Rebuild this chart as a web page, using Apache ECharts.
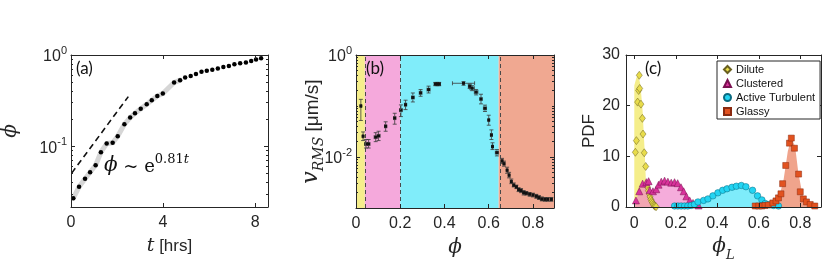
<!DOCTYPE html>
<html><head><meta charset="utf-8">
<script src="https://cdn.jsdelivr.net/npm/echarts@6/dist/echarts.min.js"></script>
<style>html,body{margin:0;padding:0;background:#fff}#c{width:830px;height:277px}</style>
</head><body><div id="c"></div>
<script>
// ---------- Panel (a): phi vs t ----------
const tA   = [0.1,0.35,0.61,0.83,1.07,1.3,1.55,1.81,2.03,2.32,2.57,2.78,3.03,3.29,3.51,3.75,3.99,4.48,4.74,4.96,5.2,5.43,5.67,5.9,6.14,6.38,6.62,6.86,7.1,7.35,7.6,7.83,8.04,8.26];
const phiA = [0.027,0.036,0.044,0.052,0.062,0.086,0.107,0.109,0.129,0.174,0.206,0.23,0.258,0.288,0.32,0.356,0.378,0.50,0.53,0.567,0.59,0.62,0.655,0.67,0.69,0.71,0.74,0.76,0.79,0.81,0.83,0.86,0.89,0.92];
const bandCountA = 19;
const fitT   = [0.03, 2.49];
const fitPhi = [0.0508, 0.35];
const xTicksA = [0, 4, 8];
const yTicksA = [0.1, 1];

// ---------- Panel (b): v_RMS vs phi ----------
const phiB  = [0.022,0.032,0.045,0.057,0.089,0.102,0.134,0.175,0.203,0.224,0.257,0.292,0.328,0.359,0.368,0.376,0.486,0.514,0.525,0.543,0.565,0.583,0.600,0.612,0.617,0.637,0.660,0.669,0.683,0.692,0.702,0.713,0.725,0.735,0.746,0.758,0.770,0.785,0.800,0.815,0.827,0.840,0.854,0.867,0.883];
const vB    = [0.10,0.0255,0.018,0.018,0.0245,0.026,0.040,0.058,0.083,0.106,0.147,0.181,0.21,0.27,0.27,0.27,0.279,0.244,0.223,0.187,0.137,0.090,0.053,0.027,0.016,0.0122,0.0084,0.0074,0.0055,0.0044,0.0033,0.0028,0.0026,0.0023,0.0022,0.0020,0.00195,0.00187,0.0018,0.0017,0.0016,0.0015,0.00148,0.00148,0.00148];
const dphiB = [0.003,0.003,0.006,0.006,0.007,0.007,0.005,0.005,0.006,0.005,0.006,0.006,0.007,0.006,0.006,0.006,0.05,0.006,0.01,0.008,0.005,0.007,0.003,0.004,0.003,0.007,0.004,0.004,0.003,0.003,0.003,0.004,0.004,0.004,0.004,0.004,0.004,0.004,0.004,0.004,0.004,0.004,0.004,0.004,0.004];
const vLoB  = [0.052,0.021,0.015,0.015,0.020,0.021,0.032,0.044,0.062,0.085,0.12,0.155,0.18,0.25,0.25,0.25,0.255,0.22,0.20,0.165,0.11,0.078,0.042,0.022,0.014,0.0105,0.0075,0.0066,0.0048,0.0039,0.0030,0.0026,0.0024,0.0021,0.0020,0.0018,0.0018,0.0017,0.00165,0.00155,0.00147,0.00138,0.00136,0.00136,0.00136];
const vHiB  = [0.135,0.031,0.022,0.022,0.030,0.032,0.049,0.072,0.105,0.13,0.18,0.21,0.245,0.29,0.29,0.29,0.30,0.27,0.25,0.21,0.17,0.104,0.066,0.034,0.019,0.014,0.0094,0.0083,0.0063,0.005,0.0037,0.0031,0.0028,0.0025,0.0024,0.0022,0.0021,0.0020,0.00195,0.00185,0.00175,0.00165,0.0016,0.0016,0.0016];
const regionEdgesB  = [0, 0.04, 0.2, 0.645, 0.895];
const regionColorsB = ['#f6ee8c','#f5a9dc','#80edfa','#f0a891'];
const xTicksB = [0, 0.2, 0.4, 0.6, 0.8];
const yTicksB = [0.01, 1];

// ---------- Panel (c): PDF vs phi_L ----------
const dilX = [0.005,0.01,0.016,0.021,0.024,0.026,0.032,0.039,0.042,0.048,0.055,0.064,0.068,0.072,0.076,0.08,0.084,0.088,0.092,0.096,0.1,0.105];
const dilY = [10.8,13.1,20.7,23,26,23.4,20.3,17.5,14.4,10.7,8.0,3.9,3.2,2.6,2.0,1.5,1.1,0.8,0.5,0.3,0.15,0.05];
const cluX = [0.008,0.024,0.04,0.058,0.069,0.074,0.09,0.106,0.117,0.13,0.146,0.162,0.178,0.194,0.209,0.225,0.238,0.251,0.267,0.283,0.299,0.31];
const cluY = [1.3,3.1,4.6,4.9,5.1,3.3,3.1,3.5,4.4,5.0,5.2,5.0,4.8,4.9,4.7,3.9,3.1,2.1,1.3,0.8,0.5,0.3];
const actX = [0.194,0.21,0.226,0.242,0.258,0.274,0.29,0.307,0.334,0.355,0.379,0.403,0.426,0.447,0.471,0.492,0.516,0.538,0.57,0.594,0.615,0.631,0.652,0.671,0.695];
const actY = [0.2,0.2,0.2,0.2,0.2,0.3,0.5,1.0,1.3,1.6,2.2,2.8,3.3,3.6,3.9,4.1,4.25,4.0,3.3,2.2,1.4,0.7,0.5,0.3,0.2];
const glaX = [0.583,0.6,0.615,0.63,0.646,0.668,0.683,0.695,0.707,0.715,0.73,0.748,0.757,0.772,0.792,0.8,0.815,0.83,0.848,0.87];
const glaY = [0.2,0.2,0.2,0.3,0.4,0.8,1.2,1.8,2.6,4.6,8.2,12.6,13.6,11.6,6.5,3.0,1.6,1.0,0.5,0.2];
// shaded envelopes
const dilFillX = [0,0,0.01,0.02,0.03,0.04,0.045,0.05,0.055,0.06,0.08,0.1];
const dilFillY = [0,24,25.5,26,24,19,15,11,6,3,1,0];
const cluFillX = [0,0.01,0.025,0.04,0.055,0.07,0.09,0.11,0.13,0.15,0.18,0.21,0.23,0.25,0.27,0.29,0.31,0.32];
const cluFillY = [0,1.5,3.5,4.8,5,3.6,3.2,3.8,4.9,5.1,4.9,4.6,3.8,2.3,1.2,0.6,0.2,0];
const actFillX = [0.28,0.3,0.33,0.36,0.4,0.44,0.48,0.52,0.55,0.58,0.61,0.64,0.67,0.7,0.72];
const actFillY = [0,0.6,1.2,1.8,2.8,3.6,4.1,4.3,3.9,2.9,1.7,0.8,0.4,0.15,0];
const glaFillX = [0.6,0.65,0.68,0.7,0.72,0.74,0.757,0.775,0.79,0.81,0.83,0.85,0.87];
const glaFillY = [0,0.3,0.9,2.2,5.5,11,13.6,12,7,2.5,1,0.3,0];
const xTicksC = [0, 0.2, 0.4, 0.6, 0.8];
const yTicksC = [0, 10, 20, 30];
const legendNames = ['Dilute','Clustered','Active Turbulent','Glassy'];

// ---------- helpers ----------
const zip = (a, b) => a.map((v, i) => [v, b[i]]);
const FONT = 'Liberation Sans, Arial, sans-serif';
const SERIF = 'DejaVu Serif, Liberation Serif, serif';
const AX = '#262626';
const minorVals = [];
for (let e = -3; e <= 0; e++) for (let m = 1; m <= 9; m++) minorVals.push(+(m * Math.pow(10, e)).toPrecision(3));
const supRich = {
  b: {fontSize: 16, fontFamily: FONT, color: AX, verticalAlign: 'bottom'},
  s: {fontSize: 11, fontFamily: FONT, color: AX, verticalAlign: 'bottom', padding: [0, 0, 9, 0]}
};
const logFmt = v => '{b|10}{s|' + Math.round(Math.log10(v)) + '}';

function xAx(grid, min, max, ticks, pos, name, nameGap, nameRich, margin) {
  const main = pos === 'bottom';
  return {
    type: 'value', gridIndex: grid, position: pos, min, max, z: 10,
    axisLine: {show: true, onZero: false, lineStyle: {color: AX, width: 1}},
    axisTick: {show: true, inside: true, length: 4, customValues: ticks, lineStyle: {color: AX}},
    axisLabel: {show: main, customValues: ticks, margin: margin || 8, fontSize: 16, fontFamily: FONT, color: AX},
    splitLine: {show: false},
    name: main ? name : '', nameLocation: 'middle', nameGap: nameGap, nameMoveOverlap: false,
    nameTextStyle: {rich: nameRich}
  };
}
function yAx(grid, type, min, max, ticks, pos, opts) {
  opts = opts || {};
  const main = pos === 'left' && !opts.minor;
  const ax = {
    type, gridIndex: grid, position: pos, min, max, z: 10,
    axisLine: {show: !opts.minor, onZero: false, lineStyle: {color: AX, width: 1}},
    axisTick: {show: true, inside: true, length: opts.minor ? 2 : 4, customValues: ticks, lineStyle: {color: AX}},
    axisLabel: {show: main, customValues: opts.labels || ticks, margin: opts.margin || 5, fontSize: 16, fontFamily: FONT, color: AX},
    splitLine: {show: false},
    nameMoveOverlap: false
  };
  if (main && opts.fmt) { ax.axisLabel.formatter = opts.fmt; ax.axisLabel.rich = supRich; }
  if (main && opts.name) {
    ax.name = opts.name; ax.nameLocation = 'middle'; ax.nameGap = opts.nameGap; ax.nameRotate = 90;
    ax.nameTextStyle = {rich: opts.rich, fontSize: 17, fontFamily: FONT, color: AX};
  }
  return ax;
}

const phiRich = {p: {fontFamily: SERIF, fontStyle: 'italic', fontSize: 20, color: AX}};

const bandsB = [];
for (let i = 0; i < regionColorsB.length; i++) {
  bandsB.push([{xAxis: regionEdgesB[i], itemStyle: {color: regionColorsB[i], opacity: 1}}, {xAxis: regionEdgesB[i + 1]}]);
}
const dashB = regionEdgesB.slice(1, 4).map(v => ({xAxis: v}));
const errRows = phiB.map((p, i) => [p, vB[i], dphiB[i], vLoB[i], vHiB[i]]);

function errItem(params, api) {
  const x = api.value(0), y = api.value(1), dx = api.value(2), lo = api.value(3), hi = api.value(4);
  const a = api.coord([x, lo]), b = api.coord([x, hi]);
  const l = api.coord([x - dx, y]), r = api.coord([x + dx, y]);
  const cap = 2, st = {stroke: '#3a3a3a', lineWidth: 0.8};
  const ln = (x1, y1, x2, y2) => ({type: 'line', shape: {x1, y1, x2, y2}, style: st});
  return {type: 'group', children: [
    ln(a[0], a[1], b[0], b[1]), ln(a[0] - cap, a[1], a[0] + cap, a[1]), ln(b[0] - cap, b[1], b[0] + cap, b[1]),
    ln(l[0], l[1], r[0], r[1]), ln(l[0], l[1] - cap, l[0], l[1] + cap), ln(r[0], r[1] - cap, r[0], r[1] + cap)
  ]};
}

const areaSeries = (name, xs, ys, color, opacity) => ({
  type: 'line', name, xAxisIndex: 4, yAxisIndex: 8, data: zip(xs, ys), showSymbol: false, symbol: 'none',
  lineStyle: {width: 0}, areaStyle: {color, opacity}, silent: true, z: 1
});
const markerSeries = (name, xs, ys, symbol, size, color, border) => ({
  type: 'scatter', name, xAxisIndex: 4, yAxisIndex: 8, data: zip(xs, ys), symbol, symbolSize: size,
  itemStyle: {color, borderColor: border, borderWidth: 0.5, opacity: 1}, z: 3
});

const option = {
  animation: false,
  backgroundColor: '#fff',
  grid: [
    {left: 71, top: 55, width: 197, height: 152, outerBoundsMode: 'none'},
    {left: 356, top: 55, width: 198, height: 153, outerBoundsMode: 'none'},
    {left: 626, top: 55, width: 195, height: 152, outerBoundsMode: 'none'}
  ],
  xAxis: [
    xAx(0, 0, 8.56, xTicksA, 'bottom', '{i|t}{n| [hrs]}', 30, {i: {fontFamily: SERIF, fontStyle: 'italic', fontSize: 19, color: AX}, n: {fontFamily: FONT, fontSize: 17, color: AX}}),
    xAx(0, 0, 8.56, xTicksA, 'top'),
    xAx(1, 0, 0.895, xTicksB, 'bottom', '{p|ϕ}', 30, phiRich),
    xAx(1, 0, 0.895, xTicksB, 'top'),
    xAx(2, -0.04, 0.9, xTicksC, 'bottom', '{p|ϕ}{sub|L}', 30, {p: {fontFamily: SERIF, fontStyle: 'italic', fontSize: 20, color: AX, verticalAlign: 'bottom', padding: [0, 0, 5, 0]}, sub: {fontFamily: SERIF, fontStyle: 'italic', fontSize: 13, color: AX, verticalAlign: 'bottom'}}, 9),
    xAx(2, -0.04, 0.9, xTicksC, 'top')
  ],
  yAxis: [
    yAx(0, 'log', 0.0216, 1, yTicksA, 'left', {fmt: logFmt, margin: 4, name: '{p|ϕ}', nameGap: 50, rich: phiRich}),
    yAx(0, 'log', 0.0216, 1, yTicksA, 'right'),
    yAx(0, 'log', 0.0216, 1, minorVals, 'left', {minor: true}),
    yAx(0, 'log', 0.0216, 1, minorVals, 'right', {minor: true}),
    yAx(1, 'log', 0.001, 1, yTicksB, 'left', {fmt: logFmt, margin: 4, name: '{v|v}{sub|RMS}{n| [μm/s]}', nameGap: 30,
      rich: {v: {fontFamily: SERIF, fontStyle: 'italic', fontSize: 22, color: AX, verticalAlign: 'bottom', padding: [0, 0, 4, 0]},
             sub: {fontFamily: SERIF, fontStyle: 'italic', fontSize: 14, color: AX, verticalAlign: 'bottom'},
             n: {fontFamily: FONT, fontSize: 19, color: AX, verticalAlign: 'bottom', padding: [0, 0, 4, 0]}}}),
    yAx(1, 'log', 0.001, 1, yTicksB, 'right'),
    yAx(1, 'log', 0.001, 1, minorVals, 'left', {minor: true}),
    yAx(1, 'log', 0.001, 1, minorVals, 'right', {minor: true}),
    yAx(2, 'value', 0, 30, yTicksC, 'left', {margin: 6, name: 'PDF', nameGap: 28}),
    yAx(2, 'value', 0, 30, yTicksC, 'right')
  ],
  legend: {
    data: legendNames, orient: 'vertical', left: 717, top: 61, itemWidth: 7, itemHeight: 7, itemGap: 3,
    padding: [3, 5, 2, 6], backgroundColor: '#fff', borderColor: AX, borderWidth: 1, borderRadius: 0,
    textStyle: {fontSize: 11, fontFamily: FONT, color: '#111'}, selectedMode: false, z: 20
  },
  series: [
    // (a)
    {type: 'line', name: 'bandA', xAxisIndex: 0, yAxisIndex: 0, data: zip(tA.slice(0, bandCountA), phiA.slice(0, bandCountA)),
     showSymbol: false, symbol: 'none', lineStyle: {color: '#d6d6d6', width: 5, cap: 'round', join: 'round'}, silent: true, z: 1},
    {type: 'line', name: 'fitA', xAxisIndex: 0, yAxisIndex: 0, data: zip(fitT, fitPhi), showSymbol: false, symbol: 'none',
     lineStyle: {color: '#111', width: 1.6, type: [6, 4]}, silent: true, z: 2},
    {type: 'scatter', name: 'dotsA', xAxisIndex: 0, yAxisIndex: 0, data: zip(tA, phiA), symbolSize: 4.5,
     itemStyle: {color: '#000', opacity: 1}, z: 3},
    // (b)
    {type: 'line', name: 'bgB', xAxisIndex: 2, yAxisIndex: 4, data: [], z: 1, silent: true,
     markArea: {silent: true, data: bandsB},
     markLine: {silent: true, symbol: ['none', 'none'], label: {show: false}, data: dashB,
                lineStyle: {type: [4, 3], color: '#4a4a4a', width: 1}}},
    {type: 'custom', name: 'errB', xAxisIndex: 2, yAxisIndex: 4, data: errRows, renderItem: errItem,
     encode: {x: 0, y: 1}, z: 3, silent: true},
    {type: 'scatter', name: 'ptsB', xAxisIndex: 2, yAxisIndex: 4, data: zip(phiB, vB), symbol: 'rect', symbolSize: 3,
     itemStyle: {color: '#111', opacity: 1}, z: 4},
    // (c)
    areaSeries('dilFill', dilFillX, dilFillY, '#f5ee8a', 1),
    areaSeries('cluFill', cluFillX, cluFillY, '#ef7fc7', 0.65),
    areaSeries('actFill', actFillX, actFillY, '#7eecfb', 1),
    areaSeries('glaFill', glaFillX, glaFillY, '#f0a48c', 1),
    markerSeries('Dilute', dilX, dilY, 'diamond', [6, 8], '#e8dc4a', '#6a6020'),
    markerSeries('Clustered', cluX, cluY, 'triangle', 7, '#d8329b', '#7a1050'),
    markerSeries('Active Turbulent', actX, actY, 'circle', 6.5, '#22d4f2', '#0a6a80'),
    markerSeries('Glassy', glaX, glaY, 'rect', 6, '#e2521f', '#8a2a10')
  ],
  graphic: [
    {type: 'text', left: 76, top: 60, z: 100, style: {text: '(a)', fontSize: 17, fontFamily: 'Lato, Open Sans, sans-serif', fill: '#111'}},
    {type: 'text', left: 366, top: 60, z: 100, style: {text: '(b)', fontSize: 17, fontFamily: 'Lato, Open Sans, sans-serif', fill: '#111'}},
    {type: 'text', left: 645, top: 60, z: 100, style: {text: '(c)', fontSize: 17, fontFamily: 'Lato, Open Sans, sans-serif', fill: '#111'}},
    {type: 'text', left: 104, top: 153, z: 100, style: {
      text: '{p|ϕ}{n| ~ e}{s|0.81}{t|t}',
      rich: {
        p: {fontFamily: SERIF, fontStyle: 'italic', fontSize: 20, fill: '#111', verticalAlign: 'bottom'},
        n: {fontFamily: SERIF, fontSize: 18, fill: '#111', verticalAlign: 'bottom'},
        s: {fontFamily: SERIF, fontSize: 13, fill: '#111', verticalAlign: 'bottom', padding: [0, 0, 10, 0]},
        t: {fontFamily: SERIF, fontStyle: 'italic', fontSize: 13, fill: '#111', verticalAlign: 'bottom', padding: [0, 0, 10, 0]}
      }}}
  ]
};
const chart = echarts.init(document.getElementById('c'), null, {renderer: 'canvas'});
chart.setOption(option);
</script></body></html>
